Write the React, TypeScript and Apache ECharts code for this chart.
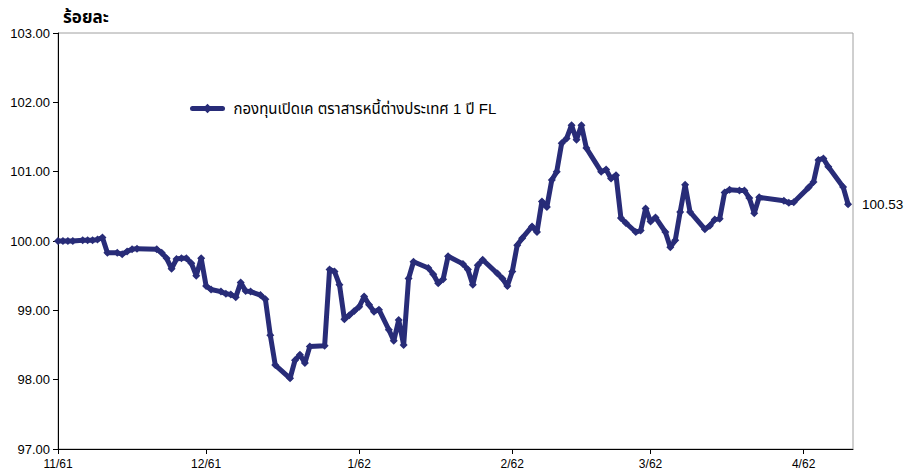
import React, { useEffect, useRef } from "react";
import * as echarts from "echarts";

const seriesName = "กองทุนเปิดเค ตราสารหนี้ต่างประเทศ 1 ปี FL";
const yAxisTitle = "ร้อยละ";
const axisStart = "2018-11-01";
const axisEnd = "2019-04-11";
const yMin = 97;
const yMax = 103;
const yStep = 1;

const dates = [
  "2018-11-01", "2018-11-02", "2018-11-03", "2018-11-04", "2018-11-06", "2018-11-07", "2018-11-08", "2018-11-09",
  "2018-11-10", "2018-11-11", "2018-11-13", "2018-11-14", "2018-11-15", "2018-11-16", "2018-11-17", "2018-11-21",
  "2018-11-22", "2018-11-23", "2018-11-24", "2018-11-25", "2018-11-26", "2018-11-27", "2018-11-28", "2018-11-29",
  "2018-11-30", "2018-12-01", "2018-12-02", "2018-12-04", "2018-12-05", "2018-12-06", "2018-12-07", "2018-12-08",
  "2018-12-09", "2018-12-10", "2018-12-12", "2018-12-13", "2018-12-14", "2018-12-15", "2018-12-18", "2018-12-19",
  "2018-12-20", "2018-12-21", "2018-12-22", "2018-12-25", "2018-12-26", "2018-12-27", "2018-12-28", "2018-12-29",
  "2018-12-30", "2018-12-31", "2019-01-01", "2019-01-02", "2019-01-03", "2019-01-04", "2019-01-05", "2019-01-07",
  "2019-01-08", "2019-01-09", "2019-01-10", "2019-01-11", "2019-01-12", "2019-01-15", "2019-01-16", "2019-01-17",
  "2019-01-18", "2019-01-19", "2019-01-22", "2019-01-23", "2019-01-24", "2019-01-25", "2019-01-26", "2019-01-29",
  "2019-01-30", "2019-01-31", "2019-02-01", "2019-02-02", "2019-02-03", "2019-02-05", "2019-02-06", "2019-02-07",
  "2019-02-08", "2019-02-09", "2019-02-10", "2019-02-11", "2019-02-12", "2019-02-13", "2019-02-14", "2019-02-15",
  "2019-02-16", "2019-02-19", "2019-02-20", "2019-02-21", "2019-02-22", "2019-02-23", "2019-02-24", "2019-02-26",
  "2019-02-27", "2019-02-28", "2019-03-01", "2019-03-02", "2019-03-04", "2019-03-05", "2019-03-06", "2019-03-07",
  "2019-03-08", "2019-03-09", "2019-03-12", "2019-03-13", "2019-03-14", "2019-03-15", "2019-03-16", "2019-03-17",
  "2019-03-19", "2019-03-20", "2019-03-21", "2019-03-22", "2019-03-23", "2019-03-28", "2019-03-29", "2019-03-30",
  "2019-04-02", "2019-04-03", "2019-04-04", "2019-04-05", "2019-04-06", "2019-04-09", "2019-04-10",
];

const navValues = [
  100.0, 100.0, 100.0, 100.0, 100.01, 100.01, 100.01, 100.02,
  100.05, 99.83, 99.83, 99.81, 99.85, 99.88, 99.89, 99.88,
  99.83, 99.75, 99.6, 99.74, 99.75, 99.75, 99.68, 99.5,
  99.75, 99.35, 99.3, 99.27, 99.24, 99.23, 99.19, 99.4,
  99.28, 99.27, 99.22, 99.16, 98.64, 98.21, 98.02, 98.28,
  98.36, 98.24, 98.48, 98.49, 99.59, 99.56, 99.37, 98.87,
  98.93, 98.99, 99.05, 99.2, 99.08, 98.98, 99.01, 98.72,
  98.56, 98.86, 98.5, 99.46, 99.7, 99.61, 99.52, 99.39,
  99.45, 99.78, 99.67, 99.59, 99.37, 99.65, 99.73, 99.53,
  99.46, 99.35, 99.56, 99.94, 100.04, 100.21, 100.13, 100.57,
  100.49, 100.88, 101.0, 101.41, 101.48, 101.67, 101.46, 101.67,
  101.34, 101.0, 101.03, 100.9, 100.95, 100.33, 100.26, 100.13,
  100.15, 100.47, 100.28, 100.34, 100.13, 99.91, 100.01, 100.42,
  100.81, 100.42, 100.17, 100.22, 100.31, 100.32, 100.7, 100.74,
  100.73, 100.73, 100.62, 100.4, 100.63, 100.58, 100.55, 100.56,
  100.77, 100.85, 101.17, 101.19, 101.07, 100.78, 100.53,
];

const lineColor = "#282c78";
const fontFamily = "Arial, 'Liberation Sans', 'Noto Sans Thai', 'Noto Sans', sans-serif";

function buildCategories(start: string, end: string): string[] {
  const out: string[] = [];
  const d = new Date(start + "T00:00:00Z");
  const e = new Date(end + "T00:00:00Z");
  while (d.getTime() <= e.getTime()) {
    out.push(d.toISOString().slice(0, 10));
    d.setUTCDate(d.getUTCDate() + 1);
  }
  return out;
}

const isMonthStart = (_i: number, v: string) => v.slice(8, 10) === "01";
const monthLabel = (v: string) => {
  const m = parseInt(v.slice(5, 7), 10);
  const y = (parseInt(v.slice(0, 4), 10) + 543) % 100;
  return `${m}/${String(y).padStart(2, "0")}`;
};

export default function App() {
  const ref = useRef<HTMLDivElement>(null);
  useEffect(() => {
    if (!ref.current) return;
    const chart = echarts.init(ref.current, undefined, { renderer: "svg" });
    const categories = buildCategories(axisStart, axisEnd);
    chart.setOption({
      animation: false,
      backgroundColor: "#ffffff",
      textStyle: { fontFamily },
      title: {
        text: yAxisTitle,
        left: 58,
        top: 4,
        textStyle: { fontSize: 17, fontWeight: "bold", color: "#000", fontFamily },
      },
      legend: {
        left: 185,
        top: 96,
        itemWidth: 30,
        itemHeight: 12,
        data: [seriesName],
        lineStyle: { width: 5 },
        textStyle: { fontSize: 15, color: "#000", fontFamily, padding: [0, 0, 0, 6] },
      },
      grid: {
        left: 58,
        right: 60,
        top: 33,
        bottom: 23,
        show: true,
        borderColor: "#a0a0a0",
        borderWidth: 1,
      },
      xAxis: {
        type: "category",
        data: categories,
        boundaryGap: false,
        axisLine: { lineStyle: { color: "#000", width: 1 } },
        axisTick: { interval: isMonthStart, length: 5, lineStyle: { color: "#000" } },
        axisLabel: {
          interval: isMonthStart,
          formatter: monthLabel,
          fontSize: 12,
          color: "#000",
          margin: 9,
          fontFamily,
        },
        splitLine: { show: false },
      },
      yAxis: {
        type: "value",
        min: yMin,
        max: yMax,
        interval: yStep,
        axisLine: { show: true, lineStyle: { color: "#000", width: 1 } },
        axisTick: { show: true, length: 5, lineStyle: { color: "#000" } },
        axisLabel: {
          formatter: (v: number) => v.toFixed(2),
          fontSize: 13,
          color: "#000",
          margin: 8,
          fontFamily,
        },
        splitLine: { show: false },
      },
      series: [
        {
          type: "line",
          name: seriesName,
          data: dates.map((d, i) => [d, navValues[i]]),
          symbol: "diamond",
          symbolSize: 8,
          showAllSymbol: true,
          lineStyle: { width: 5, color: lineColor, join: "round", cap: "round" },
          itemStyle: { color: lineColor },
          endLabel: {
            show: true,
            formatter: (p: any) => Number(p.value[1]).toFixed(2),
            distance: 14,
            fontSize: 13.5,
            color: "#000",
            fontFamily,
          },
        },
      ],
    });
    return () => chart.dispose();
  }, []);
  return (
    <div
      ref={ref}
      style={{ position: "fixed", left: 0, top: 0, width: 913, height: 472 }}
    />
  );
}
